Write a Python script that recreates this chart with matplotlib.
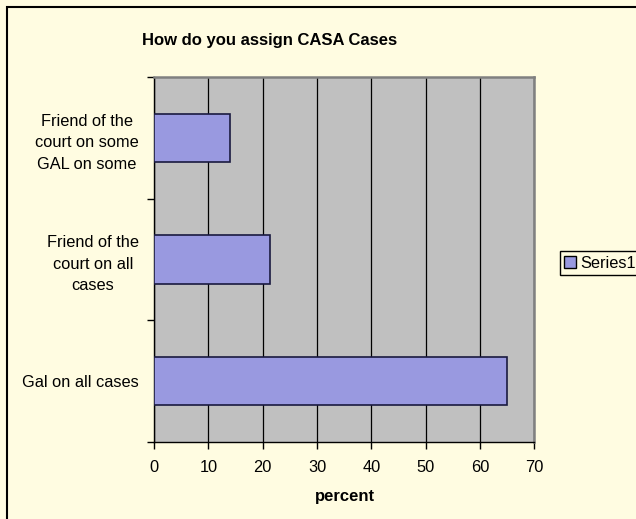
import matplotlib.pyplot as plt
from matplotlib.patches import Rectangle, Patch

plt.rcParams['font.family'] = ['Liberation Sans', 'DejaVu Sans']

categories = ['Gal on all cases',
              'Friend of the\ncourt on all\ncases',
              'Friend of the\ncourt on some\nGAL on some']
values = [65, 21.3, 14]
xticks = [0, 10, 20, 30, 40, 50, 60, 70]

W, H = 636, 519
bg = '#FFFCE1'
fig = plt.figure(figsize=(W / 100, H / 100), dpi=100, facecolor=bg)

# outer chart frame (runs off the right/bottom edge like the original)
fig.patches.append(Rectangle((7 / W, -0.05), 1.1, 1 - 7 / H + 0.05,
                             transform=fig.transFigure, fill=False,
                             edgecolor='black', lw=1.5))

ax = fig.add_axes([154 / W, 1 - 441.7 / H, 380.5 / W, 364.4 / H])
ax.set_facecolor('#C0C0C0')

ax.set_xlim(0, 70)
ax.set_ylim(-0.5, 2.5)
ax.set_xticks(xticks)
ax.grid(axis='x', color='black', lw=0.9)
ax.set_axisbelow(True)

ypos = list(range(len(categories)))
ax.barh(ypos, values, height=0.4, color='#9999E0', edgecolor='#1a1a40', lw=1.2,
        zorder=3)

ax.set_yticks(ypos)
ax.set_yticklabels(categories, multialignment='center', fontsize=11.8,
                   linespacing=1.55)
ax.tick_params(axis='y', length=0, pad=11)
ax.set_yticks([-0.5, 0.5, 1.5, 2.5], minor=True)
ax.tick_params(axis='y', which='minor', length=5, width=1, direction='out')
ax.tick_params(axis='x', length=5, width=1, labelsize=11.8, pad=8)

for s in ['top', 'right']:
    ax.spines[s].set_color('#808080')
    ax.spines[s].set_linewidth(1.8)
for s in ['left', 'bottom']:
    ax.spines[s].set_color('black')
    ax.spines[s].set_linewidth(1)

fig.text(270 / W, 1 - 41 / H, 'How do you assign CASA Cases', ha='center', va='center',
         fontsize=12, fontweight='bold')
fig.text(345 / W, 1 - 497 / H, 'percent', ha='center', va='center',
         fontsize=12, fontweight='bold')

handle = Patch(facecolor='#9999E0', edgecolor='black', lw=1)
leg = fig.legend([handle], ['Series1'], loc='center left',
                 bbox_to_anchor=(560 / W, 1 - 263 / H), borderaxespad=0,
                 fancybox=False, edgecolor='black', facecolor=bg, framealpha=1,
                 fontsize=11.8, handlelength=0.7, handleheight=0.7,
                 handletextpad=0.3, borderpad=0.25)
leg.get_frame().set_linewidth(1)

fig.savefig('out.png', dpi=100, facecolor=bg)
